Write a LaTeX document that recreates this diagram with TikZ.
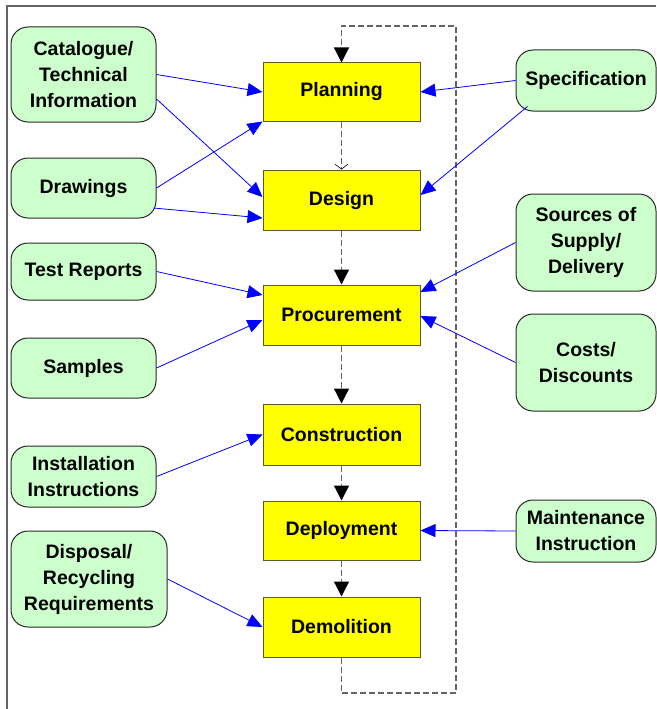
\documentclass[tikz,border=0pt]{standalone}
\usepackage{fontspec}
\setmainfont{Liberation Sans}
\usetikzlibrary{arrows.meta,calc}
\definecolor{boxyellow}{RGB}{255,255,0}
\definecolor{yborder}{RGB}{90,90,40}
\definecolor{boxgreen}{RGB}{204,255,204}
\definecolor{gborder}{RGB}{40,40,40}
\definecolor{loopgrey}{RGB}{100,100,100}
\definecolor{framegrey}{RGB}{100,100,100}
\tikzset{
  stage/.style={draw=yborder, fill=boxyellow, line width=1pt, minimum width=157pt,
    inner sep=0pt, font=\bfseries\fontsize{19.5}{26}\selectfont},
  source/.style={draw=gborder, fill=boxgreen, line width=1pt, rounded corners=17pt,
    inner sep=0pt, align=center, font=\bfseries\fontsize{19.5}{26}\selectfont},
  feed/.style={blue, line width=0.8pt, -{Triangle[length=15pt,width=13pt]}},
  flow/.style={loopgrey, line width=1.2pt, dash pattern=on 6pt off 3pt,
    -{Triangle[length=15pt,width=15pt,color=black]}},
  openflow/.style={loopgrey, line width=1.2pt, dash pattern=on 6pt off 3pt,
    -{Straight Barb[length=5pt,width=13pt,color=black,line width=0.6pt]}},
  frameline/.style={framegrey, line width=1.2pt}
}
\begin{document}
\begin{tikzpicture}[x=1pt,y=-1pt]
\useasboundingbox (0,0) rectangle (656,709);
\coordinate (ftl) at (7,6);
\coordinate (ftr) at (656,6);
\coordinate (fbl) at (7,709);
\draw[frameline] (ftr) -- (ftl) -- (fbl);

% stages
\node[stage, minimum height=58pt] (plan) at (341.5,92) {Planning};
\node[stage, minimum height=60pt] (design) at (341.5,200) {Design};
\node[stage, minimum height=60pt] (proc) at (341.5,315) {Procurement};
\node[stage, minimum height=61pt] (cons) at (341.5,434.5) {Construction};
\node[stage, minimum height=59pt] (dep) at (341.5,530.5) {Deployment};
\node[stage, minimum height=60pt] (demo) at (341.5,627) {Demolition};

% left sources
\node[source, minimum width=145pt, minimum height=95pt] (cat) at (83.5,74.5) {Catalogue/\\Technical\\Information};
\node[source, minimum width=145pt, minimum height=60pt] (draw) at (83.5,188) {Drawings};
\node[source, minimum width=145pt, minimum height=57pt] (test) at (83.5,271.5) {Test Reports};
\node[source, minimum width=145pt, minimum height=60pt] (samp) at (83.5,368) {Samples};
\node[source, minimum width=145pt, minimum height=61pt] (inst) at (83.5,476.5) {Installation\\Instructions};
\node[source, minimum width=156pt, minimum height=96pt] (disp) at (89,579) {Disposal/\\Recycling\\Requirements};

% right sources
\node[source, minimum width=140pt, minimum height=61pt] (spec) at (586,80.5) {Specification};
\node[source, minimum width=140pt, minimum height=97pt] (srcs) at (586,242.5) {Sources of\\Supply/\\Delivery};
\node[source, minimum width=140pt, minimum height=97pt] (cost) at (586,362.5) {Costs/\\Discounts};
\node[source, minimum width=140pt, minimum height=62pt] (mnt) at (586,531) {Maintenance\\Instruction};

% main flow
\draw[openflow] (plan) -- (design);
\draw[flow] (design) -- (proc);
\draw[flow] (proc) -- (cons);
\draw[flow] (cons) -- (dep);
\draw[flow] (dep) -- (demo);
\coordinate (loopbot) at (341.5,693);
\coordinate (looptop) at (456,26);
\draw[flow] (demo.south) -- (loopbot) -| (looptop) -| (plan.north);

% feeds
\draw[feed] (cat.east) -- (plan.west);
\draw[feed] ($(cat.east)+(0,24.5)$) -- ($(design.west)+(0,-3)$);
\draw[feed] (draw.east) -- (plan.south west);
\draw[feed] ($(draw.east)+(-3,20)$) -- ($(design.west)+(0,18)$);
\draw[feed] (test.east) -- ($(proc.west)+(0,-20)$);
\draw[feed] (samp.east) -- ($(proc.west)+(0,5)$);
\draw[feed] (inst.east) -- (cons.west);
\draw[feed] (disp.east) -- (demo.west);
\draw[feed] (spec.west) -- (plan.east);
\draw[feed] ($(spec.south west)+(12,-5)$) -- ($(design.east)+(0,-5)$);
\draw[feed] (srcs.west) -- ($(proc.east)+(0,-23)$);
\draw[feed] (cost.west) -- ($(proc.east)+(0,1)$);
\draw[feed] (mnt.west) -- (dep.east);
\end{tikzpicture}
\end{document}
